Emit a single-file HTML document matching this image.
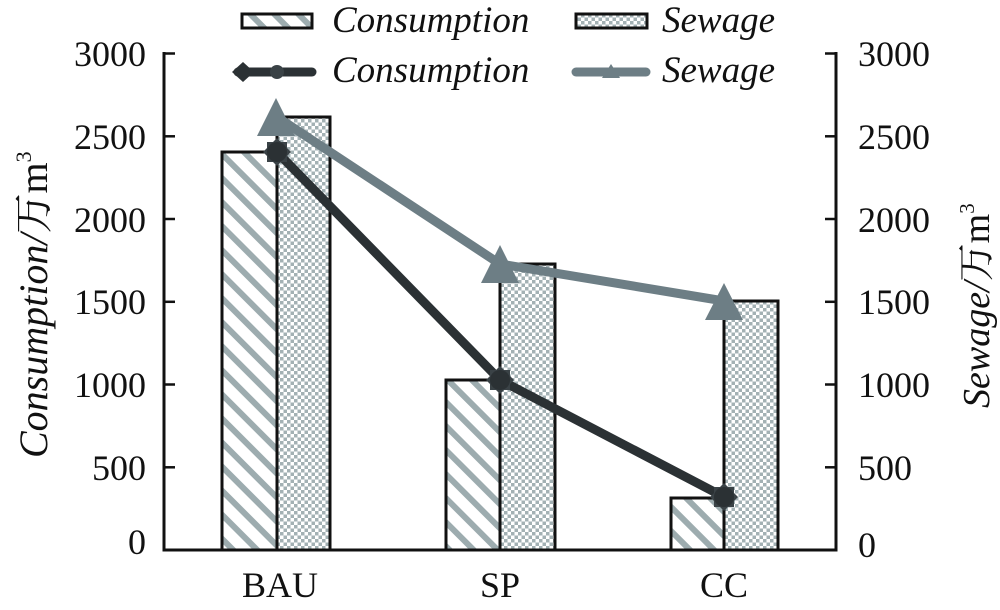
<!DOCTYPE html>
<html>
<head>
<meta charset="utf-8">
<style>
  html, body { margin:0; padding:0; background:#fff; }
  svg { display:block; }
  .tick { font-family:"Liberation Serif", "Noto Serif CJK SC", serif; font-size:36px; fill:#111; }
  .it { font-family:"Liberation Serif", "Noto Serif CJK SC", serif; font-style:italic; fill:#111; }
</style>
</head>
<body>
<svg width="1000" height="610" viewBox="0 0 1000 610" xmlns="http://www.w3.org/2000/svg">
  <defs>
    <pattern id="stripes" patternUnits="userSpaceOnUse" width="17" height="17" patternTransform="rotate(45)">
      <rect x="0" y="0" width="17" height="17" fill="#ffffff"/>
      <rect x="0" y="0" width="17" height="6" fill="#9dacaf"/>
    </pattern>
    <pattern id="checker" patternUnits="userSpaceOnUse" width="7" height="7">
      <rect x="0" y="0" width="7" height="7" fill="#ffffff"/>
      <rect x="0" y="0" width="3.5" height="3.5" fill="#a3b1b4"/>
      <rect x="3.5" y="3.5" width="3.5" height="3.5" fill="#a3b1b4"/>
    </pattern>
  </defs>

  <!-- Legend -->
  <rect x="242" y="14" width="70" height="14" fill="url(#stripes)" stroke="#111" stroke-width="3"/>
  <text class="it" x="332" y="32" font-size="37">Consumption</text>
  <rect x="576" y="14" width="71" height="14" fill="url(#checker)" stroke="#111" stroke-width="3"/>
  <text class="it" x="662" y="32" font-size="37">Sewage</text>

  <line x1="238" y1="72" x2="312" y2="72" stroke="#2b3134" stroke-width="9" stroke-linecap="round"/>
  <polygon points="232,72 243,62 254,72 243,82" fill="#2b3134"/>
  <circle cx="277" cy="72" r="7" fill="#3a4246"/>
  <text class="it" x="332" y="82" font-size="37">Consumption</text>

  <line x1="576" y1="72" x2="646" y2="72" stroke="#6d7e85" stroke-width="9" stroke-linecap="round"/>
  <polygon points="611,64 602,78 620,78" fill="#6d7e85"/>
  <text class="it" x="662" y="82" font-size="37">Sewage</text>

  <!-- Bars -->
  <rect x="222" y="152" width="55" height="398" fill="url(#stripes)" stroke="#111" stroke-width="3"/>
  <rect x="277" y="117" width="53" height="433" fill="url(#checker)" stroke="#111" stroke-width="3"/>
  <rect x="446" y="380" width="54" height="170" fill="url(#stripes)" stroke="#111" stroke-width="3"/>
  <rect x="500" y="264" width="55" height="286" fill="url(#checker)" stroke="#111" stroke-width="3"/>
  <rect x="671" y="498" width="53" height="52" fill="url(#stripes)" stroke="#111" stroke-width="3"/>
  <rect x="724" y="301" width="54" height="249" fill="url(#checker)" stroke="#111" stroke-width="3"/>

  <!-- Axes -->
  <line x1="164" y1="52" x2="164" y2="551.5" stroke="#111" stroke-width="3"/>
  <line x1="836" y1="52" x2="836" y2="551.5" stroke="#111" stroke-width="3"/>
  <line x1="162.5" y1="550" x2="837.5" y2="550" stroke="#111" stroke-width="3"/>
  <g stroke="#111" stroke-width="2.5">
    <line x1="164" y1="53.5" x2="175" y2="53.5"/>
    <line x1="164" y1="136.3" x2="175" y2="136.3"/>
    <line x1="164" y1="219" x2="175" y2="219"/>
    <line x1="164" y1="301.8" x2="175" y2="301.8"/>
    <line x1="164" y1="384.5" x2="175" y2="384.5"/>
    <line x1="164" y1="467.3" x2="175" y2="467.3"/>
    <line x1="825" y1="53.5" x2="836" y2="53.5"/>
    <line x1="825" y1="136.3" x2="836" y2="136.3"/>
    <line x1="825" y1="219" x2="836" y2="219"/>
    <line x1="825" y1="301.8" x2="836" y2="301.8"/>
    <line x1="825" y1="384.5" x2="836" y2="384.5"/>
    <line x1="825" y1="467.3" x2="836" y2="467.3"/>
  </g>

  <!-- Lines -->
  <polyline points="277,152 500,380 724,497" fill="none" stroke="#2b3134" stroke-width="9" stroke-linejoin="round"/>
  <polyline points="277,117 500,264 724,301" fill="none" stroke="#6d7e85" stroke-width="9" stroke-linejoin="round"/>

  <!-- Consumption markers -->
  <g fill="#2b3134">
    <g transform="translate(277,152)">
      <polygon points="0,-14 4,-10 10,-10 10,-4 14,0 10,4 10,10 4,10 0,14 -4,10 -10,10 -10,4 -14,0 -10,-4 -10,-10 -4,-10" fill="#3a4246"/>
      <circle r="10"/>
    </g>
    <g transform="translate(500,380)">
      <polygon points="0,-14 4,-10 10,-10 10,-4 14,0 10,4 10,10 4,10 0,14 -4,10 -10,10 -10,4 -14,0 -10,-4 -10,-10 -4,-10" fill="#3a4246"/>
      <circle r="10"/>
    </g>
    <g transform="translate(724,497)">
      <polygon points="0,-14 4,-10 10,-10 10,-4 14,0 10,4 10,10 4,10 0,14 -4,10 -10,10 -10,4 -14,0 -10,-4 -10,-10 -4,-10" fill="#3a4246"/>
      <circle r="10"/>
    </g>
  </g>

  <!-- Sewage markers -->
  <g fill="#6d7e85">
    <polygon points="276,98 257,136 295,136"/>
    <polygon points="500,245 481,283 519,283"/>
    <polygon points="724,283 705,320 743,320"/>
  </g>

  <!-- Left tick labels -->
  <g class="tick" text-anchor="end">
    <text x="146" y="66">3000</text>
    <text x="146" y="149">2500</text>
    <text x="146" y="232">2000</text>
    <text x="146" y="314">1500</text>
    <text x="146" y="397">1000</text>
    <text x="146" y="480">500</text>
    <text x="146" y="554">0</text>
  </g>
  <!-- Right tick labels -->
  <g class="tick" text-anchor="start">
    <text x="858" y="66">3000</text>
    <text x="858" y="149">2500</text>
    <text x="858" y="232">2000</text>
    <text x="858" y="314">1500</text>
    <text x="858" y="397">1000</text>
    <text x="858" y="480">500</text>
    <text x="858" y="557">0</text>
  </g>

  <!-- Category labels -->
  <g class="tick" text-anchor="middle">
    <text x="280" y="597">BAU</text>
    <text x="500" y="597">SP</text>
    <text x="724" y="597">CC</text>
  </g>

  <!-- Axis titles -->
  <text class="it" font-size="40" transform="translate(47,458) rotate(-90)">Consumption/<tspan font-style="normal" font-family="'Noto Serif CJK SC', serif">万</tspan><tspan font-style="normal">m</tspan><tspan font-style="normal" font-size="22" dy="-16">3</tspan></text>
  <text class="it" font-size="38" transform="translate(989,408) rotate(-90)">Sewage/<tspan font-style="normal" font-family="'Noto Serif CJK SC', serif">万</tspan><tspan font-style="normal">m</tspan><tspan font-style="normal" font-size="21" dy="-15">3</tspan></text>
</svg>
</body>
</html>
